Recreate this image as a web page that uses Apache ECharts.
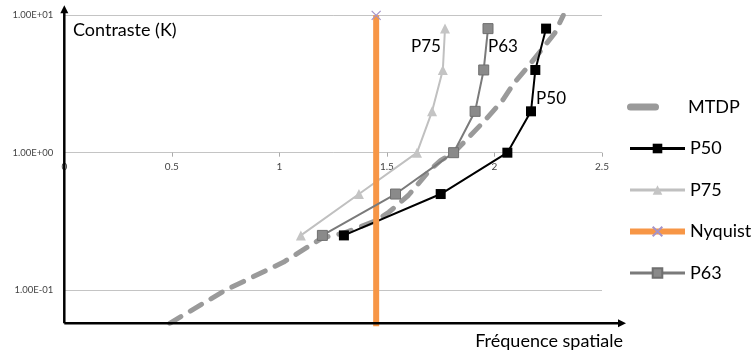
<!DOCTYPE html>
<html>
<head>
<meta charset="utf-8">
<script src="https://cdn.jsdelivr.net/npm/echarts@6/dist/echarts.min.js"></script>
<style>
html,body{margin:0;padding:0;background:#fff;}
#chart{width:753px;height:354px;}
</style>
</head>
<body>
<div id="chart"></div>
<script>
// ---- data ----
const xTicks = [0, 0.5, 1, 1.5, 2, 2.5];
const yTickLabels = { '-1': '1.00E-01', '0': '1.00E+00', '1': '1.00E+01' };
const yMin = 0.0573;
const yMax = 10;

const mtdpX = [0.49, 0.75, 1.02, 1.20, 1.30, 1.45, 1.51, 1.60, 1.64, 1.70, 1.75, 1.81, 1.86, 1.95, 2.04, 2.09, 2.16, 2.28, 2.32];
const mtdpY = [0.0573, 0.10, 0.16, 0.24, 0.26, 0.32, 0.37, 0.49, 0.58, 0.75, 0.88, 1.0, 1.2, 1.68, 2.43, 3.2, 4.3, 7.4, 10];

const p50X = [1.30, 1.75, 2.06, 2.17, 2.19, 2.24];
const p50Y = [0.25, 0.5, 1, 2, 4, 8];

const p75X = [1.10, 1.37, 1.64, 1.71, 1.76, 1.77];
const p75Y = [0.25, 0.5, 1, 2, 4, 8];

const p63X = [1.20, 1.54, 1.81, 1.91, 1.95, 1.97];
const p63Y = [0.25, 0.5, 1, 2, 4, 8];

const nyqX = [1.45, 1.45];
const nyqY = [10, 0.01];

const seriesNames = ['MTDP', 'P50', 'P75', 'Nyquist', 'P63'];

// ---- chart ----
const chart = echarts.init(document.getElementById('chart'));
const FONT = 'Lato';
const gridTop = 15.3, gridBottom = 30.7;
const gridH = 354 - gridTop - gridBottom;
const xAxisOffset = -gridH * (Math.log10(1) - Math.log10(yMin)) / (Math.log10(yMax) - Math.log10(yMin));

const pairs = (xs, ys) => xs.map((x, i) => [x, ys[i]]);
const xPath = 'path://M0,0L10,10M10,0L0,10';

const lbl = (text, offset) => ({ show: true, formatter: text, position: 'inside', offset: offset,
  fontFamily: FONT, fontSize: 17, color: '#000' });
const p50Data = pairs(p50X, p50Y).map((v, i) => i === 3 ? { value: v, label: lbl('P50', [20, -12.5]) } : v);
const p75Data = pairs(p75X, p75Y).map((v, i) => i === 5 ? { value: v, label: lbl('P75', [-19, 17.5]) } : v);
const p63Data = pairs(p63X, p63Y).map((v, i) => i === 5 ? { value: v, label: lbl('P63', [15, 17.5]) } : v);
const nyqData = pairs(nyqX, nyqY).map((v, i) => i === 0 ? { value: v } : { value: v, symbol: 'none' });

const legendLeft = 627, legendTop = 97, legendRow = 41.5;

chart.setOption({
  animation: false,
  backgroundColor: '#fff',
  textStyle: { fontFamily: FONT },
  grid: { left: 64.3, right: 151, top: gridTop, bottom: gridBottom },
  xAxis: {
    type: 'value', min: xTicks[0], max: xTicks[xTicks.length - 1], interval: 0.5,
    position: 'bottom', offset: xAxisOffset,
    axisLine: { show: false },
    axisTick: { show: true, length: 4, lineStyle: { color: '#aaa' } },
    axisLabel: { margin: 9, fontSize: 10, color: '#444', fontFamily: FONT,
      formatter: v => String(v) },
    splitLine: { show: false }
  },
  yAxis: {
    type: 'log', logBase: 10, min: yMin, max: yMax,
    axisLine: { show: false },
    axisTick: { show: false },
    axisLabel: { margin: 11, fontSize: 9.5, color: '#444', fontFamily: FONT,
      formatter: v => {
        const l = Math.log10(v); const e = Math.round(l);
        return Math.abs(l - e) < 1e-6 && yTickLabels[String(e)] ? yTickLabels[String(e)] : '';
      } },
    splitLine: { show: true, lineStyle: { color: '#c4c4c4', width: 1 } }
  },
  legend: {
    orient: 'vertical', left: legendLeft, top: legendTop + legendRow, padding: 0,
    itemWidth: 55, itemHeight: 12, itemGap: legendRow - 20,
    textStyle: { fontFamily: FONT, fontSize: 18, color: '#000', lineHeight: 20 },
    data: [
      { name: seriesNames[1], lineStyle: { width: 3 } },
      { name: seriesNames[2], lineStyle: { width: 3 } },
      { name: seriesNames[3], lineStyle: { width: 6 } },
      { name: seriesNames[4], lineStyle: { width: 3 } }
    ]
  },
  series: [
    {
      name: seriesNames[0], type: 'line', data: pairs(mtdpX, mtdpY), symbol: 'none',
      color: '#9a9a9a',
      lineStyle: { color: '#9a9a9a', width: 5, type: [13, 11], cap: 'round' },
      z: 2
    },
    {
      name: seriesNames[1], type: 'line', data: p50Data, symbol: 'rect', symbolSize: 10,
      color: '#000',
      itemStyle: { color: '#000' },
      lineStyle: { color: '#000', width: 2 },
      z: 3
    },
    {
      name: seriesNames[2], type: 'line', data: p75Data, symbol: 'triangle', symbolSize: 10,
      color: '#c0c0c0',
      itemStyle: { color: '#c4c4c4' },
      lineStyle: { color: '#c0c0c0', width: 2 },
      z: 4
    },
    {
      name: seriesNames[3], type: 'line', data: nyqData, symbol: xPath, symbolSize: 9,
      color: '#f79646', clip: true,
      itemStyle: { color: 'transparent', borderColor: '#a593c8', borderWidth: 1.2 },
      lineStyle: { color: '#f79646', width: 6 },
      z: 5
    },
    {
      name: seriesNames[4], type: 'line', data: p63Data, symbol: 'rect', symbolSize: 10,
      color: '#808080',
      itemStyle: { color: '#8a8a8a', borderColor: '#6f6f6f', borderWidth: 1 },
      lineStyle: { color: '#7a7a7a', width: 2 },
      z: 6
    }
  ]
});

// Axis arrows, axis titles and the MTDP legend entry
const pBL = chart.convertToPixel({ xAxisIndex: 0, yAxisIndex: 0 }, [xTicks[0], yMin]);
const pTR = chart.convertToPixel({ xAxisIndex: 0, yAxisIndex: 0 }, [xTicks[xTicks.length - 1], yMax]);
const yTip = pTR[1] - 10;
const xTip = pTR[0] + 24;
chart.setOption({
  graphic: [
    { type: 'line', shape: { x1: pBL[0], y1: pBL[1], x2: pBL[0], y2: yTip + 6 },
      style: { stroke: '#000', lineWidth: 2.5 }, z: 100 },
    { type: 'polygon', shape: { points: [[pBL[0], yTip], [pBL[0] - 4, yTip + 8], [pBL[0] + 4, yTip + 8]] },
      style: { fill: '#000' }, z: 100 },
    { type: 'line', shape: { x1: pBL[0], y1: pBL[1], x2: xTip - 6, y2: pBL[1] },
      style: { stroke: '#000', lineWidth: 2.5 }, z: 100 },
    { type: 'polygon', shape: { points: [[xTip, pBL[1]], [xTip - 8, pBL[1] - 4], [xTip - 8, pBL[1] + 4]] },
      style: { fill: '#000' }, z: 100 },
    { type: 'rect', shape: { x: legendLeft, y: legendTop + 10 - 3.5, width: 32, height: 7, r: 3.5 },
      style: { fill: '#9a9a9a' }, z: 100 },
    { type: 'text', x: legendLeft + 61, y: legendTop + 10,
      style: { text: seriesNames[0], font: '18px Lato', fill: '#000', verticalAlign: 'middle' }, z: 100 },
    { type: 'text', left: 73, top: 21,
      style: { text: 'Contraste (K)', font: '18px Lato', fill: '#000' }, z: 100 },
    { type: 'text', right: 753 - 623, top: 332,
      style: { text: 'Fréquence spatiale', font: '18px Lato', fill: '#000' }, z: 100 }
  ]
});
</script>
</body>
</html>
